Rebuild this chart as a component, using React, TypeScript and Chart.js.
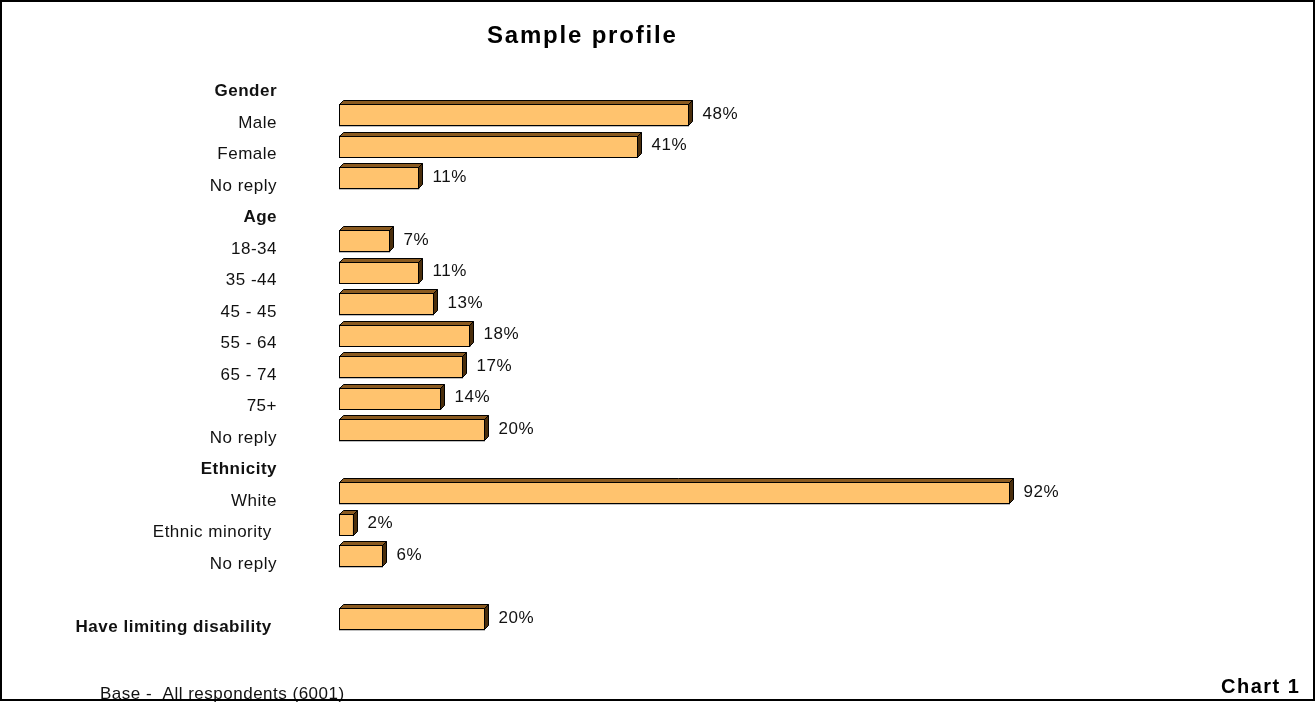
import React, { useEffect, useRef } from "react";
import { Chart, registerables } from "chart.js";

Chart.register(...registerables);

const TITLE = "Sample profile";
const FOOTNOTE = "Base -  All respondents (6001)";
const CHART_NO = "Chart 1";

const CATEGORIES = [
  "Gender",
  "Male",
  "Female",
  "No reply",
  "Age",
  "18-34",
  "35 -44",
  "45 - 45",
  "55 - 64",
  "65 - 74",
  "75+",
  "No reply",
  "Ethnicity",
  "White",
  "Ethnic minority ",
  "No reply",
  "",
  "Have limiting disability ",
];

const VALUES: (number | null)[] = [
  null, 48, 41, 11,
  null, 7, 11, 13, 18, 17, 14, 20,
  null, 92, 2, 6,
  null, 20,
];

const HEADER_ROWS = [0, 4, 12, 17];

const FONT = "'Liberation Sans', Arial, sans-serif";
const FRONT = "#FFC36E";
const TOP = "#8A5A20";
const SIDE = "#4A2E0C";

const bar3d = {
  id: "bar3d",
  beforeDraw(chart: any) {
    chart.ctx.letterSpacing = "0.5px";
  },
  afterDatasetsDraw(chart: any) {
    const ctx = chart.ctx;
    const meta = chart.getDatasetMeta(0);
    const dx = 4;
    const dy = 4;
    ctx.save();
    ctx.letterSpacing = "0.5px";
    meta.data.forEach((el: any, i: number) => {
      const v = VALUES[i];
      if (v == null) return;
      const p = el.getProps(["x", "y", "base", "height"], true);
      const l = Math.round(Math.min(p.x, p.base)) + 0.5;
      const r = Math.round(Math.max(p.x, p.base)) - 0.5;
      const t = Math.round(p.y - p.height / 2) + 0.5;
      const b = Math.round(p.y + p.height / 2) - 0.5;
      ctx.lineWidth = 1;
      ctx.strokeStyle = "#000";
      ctx.lineJoin = "miter";
      // top face
      ctx.beginPath();
      ctx.moveTo(l, t);
      ctx.lineTo(l + dx, t - dy);
      ctx.lineTo(r + dx, t - dy);
      ctx.lineTo(r, t);
      ctx.closePath();
      ctx.fillStyle = TOP;
      ctx.fill();
      ctx.stroke();
      // right face
      ctx.beginPath();
      ctx.moveTo(r, t);
      ctx.lineTo(r + dx, t - dy);
      ctx.lineTo(r + dx, b - dy);
      ctx.lineTo(r, b);
      ctx.closePath();
      ctx.fillStyle = SIDE;
      ctx.fill();
      ctx.stroke();
      // front outline
      ctx.strokeRect(l, t, r - l, b - t);
      // value label
      ctx.fillStyle = "#111";
      ctx.font = `17px ${FONT}`;
      ctx.textAlign = "left";
      ctx.textBaseline = "middle";
      ctx.fillText(`${v}%`, r + 14, p.y - 1);
    });
    ctx.restore();
  },
  afterDraw(chart: any) {
    const ctx = chart.ctx;
    ctx.save();
    ctx.fillStyle = "#000";
    ctx.textBaseline = "middle";
    ctx.textAlign = "left";
    ctx.font = `bold 24px ${FONT}`;
    ctx.letterSpacing = "1.8px";
    ctx.fillText(TITLE, 487, 36);
    ctx.font = `bold 20px ${FONT}`;
    ctx.letterSpacing = "1.5px";
    ctx.fillText(CHART_NO, 1221, 687);
    ctx.font = `17px ${FONT}`;
    ctx.letterSpacing = "0.5px";
    ctx.fillStyle = "#111";
    ctx.fillText(FOOTNOTE, 100, 694);
    ctx.strokeStyle = "#000";
    ctx.lineWidth = 2;
    ctx.strokeRect(1, 1, 1313, 699);
    ctx.restore();
  },
};

export default function App() {
  const ref = useRef<HTMLCanvasElement>(null);
  useEffect(() => {
    if (!ref.current) return;
    const chart = new Chart(ref.current, {
      type: "bar",
      data: {
        labels: CATEGORIES,
        datasets: [
          {
            data: VALUES as any,
            backgroundColor: FRONT,
            borderColor: "#000",
            borderWidth: 1,
            borderSkipped: false,
            barThickness: 22,
          },
        ],
      },
      options: {
        indexAxis: "y",
        animation: false,
        responsive: false,
        devicePixelRatio: 1,
        layout: { padding: { left: 0, right: 248, top: 68, bottom: 67 } },
        plugins: {
          legend: { display: false },
          tooltip: { enabled: false },
          title: { display: false },
        },
        scales: {
          x: { display: false, min: 0, max: 100 },
          y: {
            grid: { display: false, drawTicks: false },
            border: { display: false },
            afterFit: (scale: any) => {
              scale.width = 339;
              scale.paddingTop = 0;
              scale.paddingBottom = 0;
            },
            ticks: {
              autoSkip: false,
              padding: 62,
              labelOffset: 8,
              color: "#111",
              font: (c: any) => ({
                family: FONT,
                size: 17,
                weight: HEADER_ROWS.includes(c.index) ? "bold" : "normal",
              }),
            },
          },
        },
      },
      plugins: [bar3d],
    });
    return () => chart.destroy();
  }, []);
  return (
    <div style={{ position: "fixed", left: 0, top: 0, width: 1316, height: 702, background: "#fff" }}>
      <canvas ref={ref} width={1316} height={702} />
    </div>
  );
}
